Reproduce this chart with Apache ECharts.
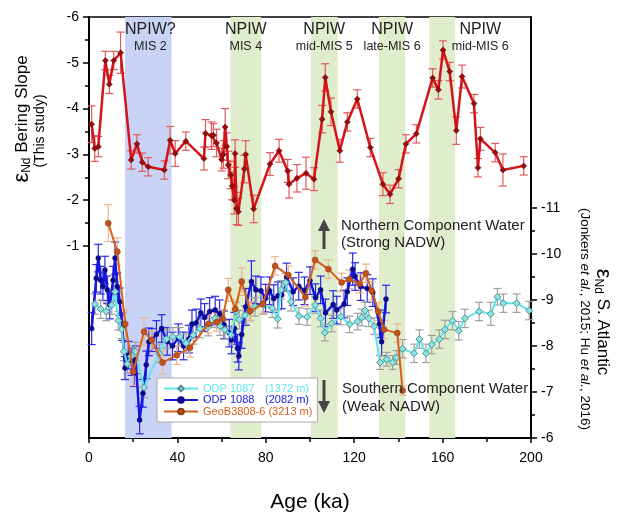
<!DOCTYPE html>
<html>
<head>
<meta charset="utf-8">
<script src="https://cdn.jsdelivr.net/npm/echarts@6/dist/echarts.min.js"></script>
<style>html,body{margin:0;padding:0;background:#fff}#chart{width:617px;height:513px}</style>
</head>
<body>
<div id="chart"></div>
<script>
var chartDom = document.getElementById('chart');
var chart = echarts.init(chartDom, null, { renderer: 'canvas' });

// Bering Slope (left axis)
var ageRed = [1.2, 2.6, 4.2, 7.4, 9.2, 11.2, 14.3, 19.1, 21.7, 24.1, 26.8, 34.1, 36.7, 39.0, 43.8,
    52.0, 52.7, 55.4, 56.3, 57.7, 60.0, 60.8, 61.6, 62.3, 63.0, 64.1, 64.8, 65.7, 66.1, 66.8,
    67.6, 70.3, 70.9, 74.5, 81.9, 86.0, 89.9, 90.5, 94.1, 98.2, 101.8, 105.5, 106.9, 109.5, 113.5,
    116.9, 121.4, 127.3, 133.0, 136.2, 140.1, 143.4, 148.1, 155.5, 158.1, 160.2, 163.2, 166.2, 168.8, 174.2,
    176.0, 177.1, 183.8, 187.3, 196.7];
var epsRed = [-3.66, -3.13, -3.17, -5.05, -4.53, -5.05, -5.22, -2.88, -3.23, -2.83, -2.73, -2.66, -3.31, -3.02, -3.29,
    -2.91, -3.46, -3.41, -3.42, -3.25, -2.89, -3.0, -3.6, -3.17, -2.77, -2.55, -2.31, -2.0, -3.02, -1.82,
    -1.75, -2.68, -3.0, -1.81, -2.79, -3.08, -2.64, -2.35, -2.48, -2.59, -2.46, -3.77, -4.68, -3.93, -3.08,
    -3.71, -4.21, -3.15, -2.35, -2.13, -2.47, -3.23, -3.45, -4.67, -4.41, -5.28, -4.81, -3.52, -4.70, -4.11,
    -2.71, -3.34, -3.04, -2.66, -2.75];
var errRed = [0.4, 0.28, 0.22, 0.2, 0.2, 0.2, 0.45, 0.2, 0.2, 0.2, 0.2, 0.2, 0.3, 0.28, 0.2,
    0.25, 0.3, 0.3, 0.25, 0.3, 0.25, 0.3, 0.4, 0.3, 0.3, 0.3, 0.3, 0.3, 0.3, 0.35,
    0.3, 0.3, 0.3, 0.3, 0.25, 0.25, 0.25, 0.3, 0.3, 0.35, 0.25, 0.3, 0.3, 0.3, 0.25,
    0.2, 0.2, 0.2, 0.25, 0.2, 0.2, 0.2, 0.2, 0.2, 0.2, 0.2, 0.2, 0.3, 0.25, 0.2,
    0.2, 0.25, 0.2, 0.35, 0.2];

// ODP 1087 (right axis)
var age1087 = [2.7, 5.3, 7.8, 10.3, 11.8, 13.3, 14.8, 15.8, 17.3, 18.9, 21.1, 24.9, 31.7, 35.0, 38.0,
    41.0, 43.9, 47.2, 50.2, 54.0, 57.0, 59.3, 61.5, 64.3, 66.6, 68.0, 70.6, 72.9, 75.1, 78.9,
    82.9, 85.4, 86.9, 89.0, 91.4, 95.0, 98.7, 102.3, 104.8, 106.7, 109.8, 113.9, 117.9, 121.5, 123.4,
    124.9, 126.6, 129.0, 131.7, 134.7, 137.4, 139.2, 141.9, 147.1, 149.5, 152.5, 155.1, 158.5, 161.1, 164.5,
    167.3, 170.1, 176.5, 181.8, 184.8, 187.5, 193.5, 199.2];
var eps1087 = [-8.91, -8.80, -8.75, -8.89, -9.18, -8.55, -8.36, -7.88, -7.61, -7.77, -7.88, -7.10, -7.84, -8.15, -8.20,
    -8.20, -8.06, -8.24, -8.38, -8.42, -8.60, -8.43, -8.35, -8.24, -8.75, -8.57, -8.67, -8.75, -8.85, -8.89,
    -8.82, -8.59, -9.22, -9.38, -8.96, -8.65, -8.63, -8.89, -8.60, -8.29, -8.49, -8.64, -8.47, -8.53, -8.62,
    -8.77, -8.60, -8.43, -7.64, -7.71, -7.64, -7.75, -7.94, -7.84, -8.15, -7.84, -8.03, -8.15, -8.36, -8.55,
    -8.33, -8.60, -8.75, -8.70, -9.07, -8.93, -8.93, -8.77];
var err1087 = [0.22, 0.2, 0.2, 0.2, 0.22, 0.2, 0.2, 0.2, 0.2, 0.2, 0.2, 0.22, 0.2, 0.2, 0.2,
    0.2, 0.2, 0.2, 0.2, 0.2, 0.2, 0.2, 0.2, 0.2, 0.2, 0.2, 0.2, 0.2, 0.2, 0.2,
    0.2, 0.2, 0.2, 0.2, 0.2, 0.18, 0.18, 0.18, 0.18, 0.18, 0.18, 0.18, 0.18, 0.18, 0.18,
    0.18, 0.18, 0.18, 0.15, 0.15, 0.15, 0.15, 0.2, 0.2, 0.2, 0.2, 0.2, 0.2, 0.2, 0.2,
    0.2, 0.2, 0.2, 0.25, 0.18, 0.2, 0.2, 0.2];

// ODP 1088 (right axis)
var age1088 = [1.2, 3.3, 4.2, 5.3, 6.3, 7.2, 8.3, 9.4, 10.9, 11.8, 12.8, 13.9, 15.1, 16.3, 17.8,
    19.3, 20.4, 21.1, 22.9, 24.4, 25.9, 27.1, 28.4, 30.5, 32.9, 35.4, 37.8, 40.4, 42.8, 45.2,
    46.6, 48.5, 50.6, 52.3, 54.6, 57.1, 59.1, 61.1, 63.5, 64.5, 65.8, 67.2, 67.8, 69.1, 70.9,
    73.5, 75.5, 77.8, 79.9, 81.7, 83.6, 85.5, 87.2, 89.4, 92.4, 94.9, 97.5, 100.0, 102.5, 104.8,
    107.0, 110.5, 112.1, 115.4, 116.9, 119.3, 120.4, 122.9, 125.9, 128.4, 131.4, 132.4, 134.4];
var eps1088 = [-8.38, -9.47, -9.91, -9.43, -9.29, -9.65, -9.22, -8.89, -9.43, -9.91, -9.29, -8.96, -8.42, -7.52, -7.80,
    -7.66, -7.42, -7.70, -6.39, -6.97, -7.59, -8.09, -8.13, -8.25, -8.38, -8.1, -8.0, -8.18, -8.0, -8.15,
    -8.48, -8.5, -8.72, -8.62, -8.75, -8.78, -8.7, -8.46, -8.28, -8.13, -8.38, -7.95, -7.78, -8.25, -8.85,
    -9.40, -9.22, -9.2, -9.04, -9.2, -9.03, -9.09, -9.11, -9.5, -9.18, -9.30, -9.2, -9.42, -9.05, -9.22,
    -8.72, -8.90, -8.78, -8.91, -9.18, -9.67, -9.51, -9.29, -9.25, -9.16, -8.48, -8.09, -9.02];
var err1088 = [0.35, 0.3, 0.3, 0.3, 0.3, 0.3, 0.3, 0.3, 0.3, 0.35, 0.3, 0.3, 0.3, 0.25, 0.3,
    0.3, 0.3, 0.3, 0.3, 0.3, 0.3, 0.3, 0.25, 0.3, 0.3, 0.3, 0.3, 0.3, 0.3, 0.3,
    0.3, 0.3, 0.3, 0.3, 0.3, 0.3, 0.3, 0.3, 0.3, 0.3, 0.35, 0.3, 0.3, 0.3, 0.4,
    0.45, 0.3, 0.3, 0.3, 0.3, 0.3, 0.3, 0.3, 0.3, 0.3, 0.3, 0.3, 0.3, 0.3, 0.3,
    0.3, 0.3, 0.3, 0.3, 0.3, 0.35, 0.3, 0.3, 0.3, 0.3, 0.3, 0.3, 0.3];

// GeoB3808-6 (right axis)
var ageGeoB = [8.7, 12.8, 16.4, 20.0, 24.9, 28.4, 33.3, 39.7, 45.7, 54.0, 57.8, 60.5, 63.0, 66.2, 69.1,
    72.9, 78.6, 84.2, 90.2, 97.9, 102.3, 108.3, 114.3, 117.8, 122.4, 125.3, 127.9, 130.9, 133.5, 139.5, 141.9];
var epsGeoB = [-10.67, -10.05, -8.48, -7.44, -8.31, -8.13, -7.64, -7.80, -7.96, -8.48, -8.52, -8.59, -9.22, -8.80, -9.40,
    -8.76, -8.91, -9.74, -9.54, -9.06, -9.87, -9.67, -9.38, -9.45, -9.35, -9.58, -9.20, -8.75, -8.36, -8.28, -7.03];
var errGeoB = [0.4, 0.3, 0.3, 0.3, 0.3, 0.2, 0.25, 0.2, 0.2, 0.2, 0.2, 0.2, 0.25, 0.2, 0.3,
    0.2, 0.2, 0.2, 0.2, 0.2, 0.2, 0.2, 0.2, 0.2, 0.2, 0.2, 0.2, 0.2, 0.2, 0.2, 0.1];

// shaded intervals
var bandStart = [16.3, 64.0, 100.4, 131.2, 154.0];
var bandEnd = [37.4, 77.9, 112.5, 143.1, 165.7];
var bandTitle = ['NPIW?', 'NPIW', 'NPIW', 'NPIW', 'NPIW'];
var bandStage = ['MIS 2', 'MIS 4', 'mid-MIS 5', 'late-MIS 6', 'mid-MIS 6'];

// tick labels
var leftTicks = [-6, -5, -4, -3, -2, -1];
var leftMinor = [-5.5, -4.5, -3.5, -2.5, -1.5];
var rightTicks = [-11, -10, -9, -8, -7, -6];
var rightMinor = [-10.5, -9.5, -8.5, -7.5, -6.5];

var legendNames = ['ODP 1087', 'ODP 1088', 'GeoB3808-6'];
var legendDepth = ['(1372 m)', '(2082 m)', '(3213 m)'];

var FONT = '"Liberation Sans", Arial, sans-serif';
var cCyan = '#5ee6ea', cBlue = '#1616dc', cOrange = '#d6601c', cRed = '#d3151b';
var bandColors = ['#c9d3f6', '#dfedcc', '#dfedcc', '#dfedcc', '#dfedcc'];
var labelShift = [2, 0, 0, 0, 38];

function pairs(a, v) {
    return a.map(function (x, i) { return [x, v[i]]; });
}

function errorSeries(ages, vals, errs, yIdx, color) {
    return {
        type: 'custom',
        yAxisIndex: yIdx,
        silent: true,
        z: 2,
        encode: { x: 0, y: [1, 2] },
        data: ages.map(function (a, i) { return [a, vals[i] - errs[i], vals[i] + errs[i]]; }),
        renderItem: function (params, api) {
            var p1 = api.coord([api.value(0), api.value(1)]);
            var p2 = api.coord([api.value(0), api.value(2)]);
            var c = 4;
            var st = { stroke: color, lineWidth: 1.2 };
            return {
                type: 'group',
                children: [
                    { type: 'line', shape: { x1: p1[0], y1: p1[1], x2: p2[0], y2: p2[1] }, style: st },
                    { type: 'line', shape: { x1: p1[0] - c, y1: p1[1], x2: p1[0] + c, y2: p1[1] }, style: st },
                    { type: 'line', shape: { x1: p2[0] - c, y1: p2[1], x2: p2[0] + c, y2: p2[1] }, style: st }
                ]
            };
        }
    };
}

var bandData = bandStart.map(function (s, i) {
    return [{
        xAxis: s,
        itemStyle: { color: bandColors[i] },
        label: { formatter: '{a|' + bandTitle[i] + '}\n{b|' + bandStage[i] + '}', offset: [labelShift[i], 0] }
    }, { xAxis: bandEnd[i] }];
});

var legendRich = {};
[cCyan, cBlue, cOrange].forEach(function (c, i) {
    legendRich['a' + i] = { color: c, fontSize: 11, lineHeight: 13.5, width: i < 2 ? 62 : undefined, padding: i < 2 ? 0 : [0, 3, 0, 0] };
    legendRich['b' + i] = { color: c, fontSize: 11, lineHeight: 13.5 };
});

var option = {
    animation: false,
    textStyle: { fontFamily: FONT },
    grid: { left: 89, right: 86, top: 17, bottom: 75, outerBoundsMode: 'none' },
    xAxis: [{
        type: 'value', min: 0, max: 200, interval: 40,
        axisLine: { onZero: false, lineStyle: { color: '#000', width: 2 } },
        axisTick: { length: 5, lineStyle: { color: '#000', width: 1.5 } },
        minorTick: { show: true, splitNumber: 2, length: 4, lineStyle: { color: '#000', width: 1.5 } },
        axisLabel: { fontSize: 14, color: '#000', margin: 13 },
        splitLine: { show: false },
        name: 'Age (ka)', nameLocation: 'middle', nameGap: 54,
        nameTextStyle: { fontSize: 21, color: '#000' }
    }, {
        type: 'value', min: 0, max: 200, position: 'top',
        axisLine: { onZero: false, lineStyle: { color: '#000', width: 1.5 } },
        axisTick: { show: false }, axisLabel: { show: false }, splitLine: { show: false }
    }],
    yAxis: [{
        type: 'value', position: 'left', inverse: true, min: -6, max: 3.19,
        axisLine: { show: true, onZero: false, lineStyle: { color: '#000', width: 2 } },
        axisTick: { show: true, customValues: leftTicks, length: 6, lineStyle: { color: '#000', width: 1.5 } },
        axisLabel: { customValues: leftTicks, fontSize: 14, color: '#000', margin: 10 },
        splitLine: { show: false }
    }, {
        type: 'value', position: 'left', inverse: true, min: -6, max: 3.19,
        axisLine: { show: false, onZero: false },
        axisTick: { show: true, customValues: leftMinor, length: 4, lineStyle: { color: '#000', width: 1.5 } },
        axisLabel: { show: false },
        splitLine: { show: false }
    }, {
        type: 'value', position: 'right', inverse: true, min: -15.15, max: -6,
        axisLine: { show: true, onZero: false, lineStyle: { color: '#000', width: 2 } },
        axisTick: { show: true, customValues: rightTicks, length: 6, lineStyle: { color: '#000', width: 1.5 } },
        axisLabel: { customValues: rightTicks, fontSize: 14, color: '#000', margin: 10 },
        splitLine: { show: false }
    }, {
        type: 'value', position: 'right', inverse: true, min: -15.15, max: -6,
        axisLine: { show: false, onZero: false },
        axisTick: { show: true, customValues: rightMinor, length: 4, lineStyle: { color: '#000', width: 1.5 } },
        axisLabel: { show: false },
        splitLine: { show: false }
    }],
    legend: {
        orient: 'vertical', left: 157, top: 378,
        backgroundColor: '#fff', borderColor: '#aaa', borderWidth: 1,
        padding: [5, 5, 5, 6], itemGap: 0.5, itemWidth: 34, itemHeight: 7,
        data: legendNames,
        formatter: function (name) {
            var i = legendNames.indexOf(name);
            return '{a' + i + '|' + name + '}{b' + i + '|' + legendDepth[i] + '}';
        },
        textStyle: { fontSize: 11, rich: legendRich }
    },
    series: [
        {
            type: 'line', data: [], silent: true, z: 0,
            markArea: {
                silent: true,
                label: {
                    show: true, position: 'insideTop', distance: 4, color: '#222',
                    rich: {
                        a: { fontSize: 16, lineHeight: 18, color: '#222' },
                        b: { fontSize: 12.5, lineHeight: 15, color: '#222' }
                    }
                },
                data: bandData
            }
        },
        errorSeries(ageRed, epsRed, errRed, 0, '#e35a5a'),
        errorSeries(age1088, eps1088, err1088, 2, '#2a2ae6'),
        errorSeries(age1087, eps1087, err1087, 2, '#a0a0a0'),
        errorSeries(ageGeoB, epsGeoB, errGeoB, 2, '#e9b68c'),
        {
            name: 'Bering Slope', type: 'line', yAxisIndex: 0, z: 3,
            data: pairs(ageRed, epsRed),
            symbol: 'diamond', symbolSize: 6,
            lineStyle: { color: cRed, width: 2.5 },
            itemStyle: { color: '#9c0c0c', borderColor: '#5a0000', borderWidth: 0.5 }
        },
        {
            name: 'ODP 1088', type: 'line', yAxisIndex: 2, z: 3,
            data: pairs(age1088, eps1088),
            symbol: 'circle', symbolSize: 5,
            lineStyle: { color: cBlue, width: 2.5 },
            itemStyle: { color: '#0a0a90', borderColor: '#0a0a90', borderWidth: 0.5 }
        },
        {
            name: 'ODP 1087', type: 'line', yAxisIndex: 2, z: 4,
            data: pairs(age1087, eps1087),
            symbol: 'diamond', symbolSize: 7,
            lineStyle: { color: cCyan, width: 2 },
            itemStyle: { color: '#8ee4e4', borderColor: '#4f8f8f', borderWidth: 1 }
        },
        {
            name: 'GeoB3808-6', type: 'line', yAxisIndex: 2, z: 5,
            data: pairs(ageGeoB, epsGeoB),
            symbol: 'circle', symbolSize: 6,
            lineStyle: { color: cOrange, width: 2 },
            itemStyle: { color: '#c4521a', borderColor: '#8a3a10', borderWidth: 0.5 }
        }
    ],
    graphic: [
        {
            type: 'text', x: 22, y: 119, rotation: Math.PI / 2, z: 20,
            style: {
                text: '{e|ε}{s|Nd}{t| Bering Slope}', align: 'center', verticalAlign: 'middle', fill: '#000',
                rich: {
                    e: { fontSize: 22, fontFamily: FONT },
                    s: { fontSize: 12, fontFamily: FONT, verticalAlign: 'bottom', padding: [10, 0, 0, 0] },
                    t: { fontSize: 17, fontFamily: FONT }
                }
            }
        },
        {
            type: 'text', x: 40, y: 131, rotation: Math.PI / 2, z: 20,
            style: { text: '(This study)', fontSize: 14, fontFamily: FONT, align: 'center', verticalAlign: 'middle', fill: '#000' }
        },
        {
            type: 'text', x: 603, y: 322, rotation: -Math.PI / 2, z: 20,
            style: {
                text: '{e|ε}{s|Nd}{t| S. Atlantic}', align: 'center', verticalAlign: 'middle', fill: '#000',
                rich: {
                    e: { fontSize: 22, fontFamily: FONT },
                    s: { fontSize: 12, fontFamily: FONT, verticalAlign: 'bottom', padding: [10, 0, 0, 0] },
                    t: { fontSize: 17, fontFamily: FONT }
                }
            }
        },
        {
            type: 'text', x: 585, y: 319, rotation: -Math.PI / 2, z: 20,
            style: {
                text: '{n|(Jonkers }{i|et al.}{n|, 2015; Hu }{i|et al.}{n|, 2016)}',
                align: 'center', verticalAlign: 'middle', fill: '#000',
                rich: {
                    n: { fontSize: 13.5, fontFamily: FONT },
                    i: { fontSize: 13.5, fontFamily: FONT, fontStyle: 'italic' }
                }
            }
        },
        {
            type: 'text', x: 341, y: 226, z: 20,
            style: { text: 'Northern Component Water', fontSize: 15, fontFamily: FONT, fill: '#222', verticalAlign: 'middle' }
        },
        {
            type: 'text', x: 341, y: 243, z: 20,
            style: { text: '(Strong NADW)', fontSize: 15, fontFamily: FONT, fill: '#222', verticalAlign: 'middle' }
        },
        {
            type: 'text', x: 342, y: 389, z: 20,
            style: { text: 'Southern Component Water', fontSize: 15, fontFamily: FONT, fill: '#222', verticalAlign: 'middle' }
        },
        {
            type: 'text', x: 342, y: 407, z: 20,
            style: { text: '(Weak NADW)', fontSize: 15, fontFamily: FONT, fill: '#222', verticalAlign: 'middle' }
        },
        { type: 'polygon', z: 20, shape: { points: [[324, 219], [318, 231], [330, 231]] }, style: { fill: '#444' } },
        { type: 'rect', z: 20, shape: { x: 322.5, y: 230, width: 3, height: 19 }, style: { fill: '#444' } },
        { type: 'polygon', z: 20, shape: { points: [[324, 413], [318, 401], [330, 401]] }, style: { fill: '#444' } },
        { type: 'rect', z: 20, shape: { x: 322.5, y: 380, width: 3, height: 22 }, style: { fill: '#444' } }
    ]
};

chart.setOption(option);
window.addEventListener('resize', function () {
    chart.resize();
});
</script>
</body>
</html>
